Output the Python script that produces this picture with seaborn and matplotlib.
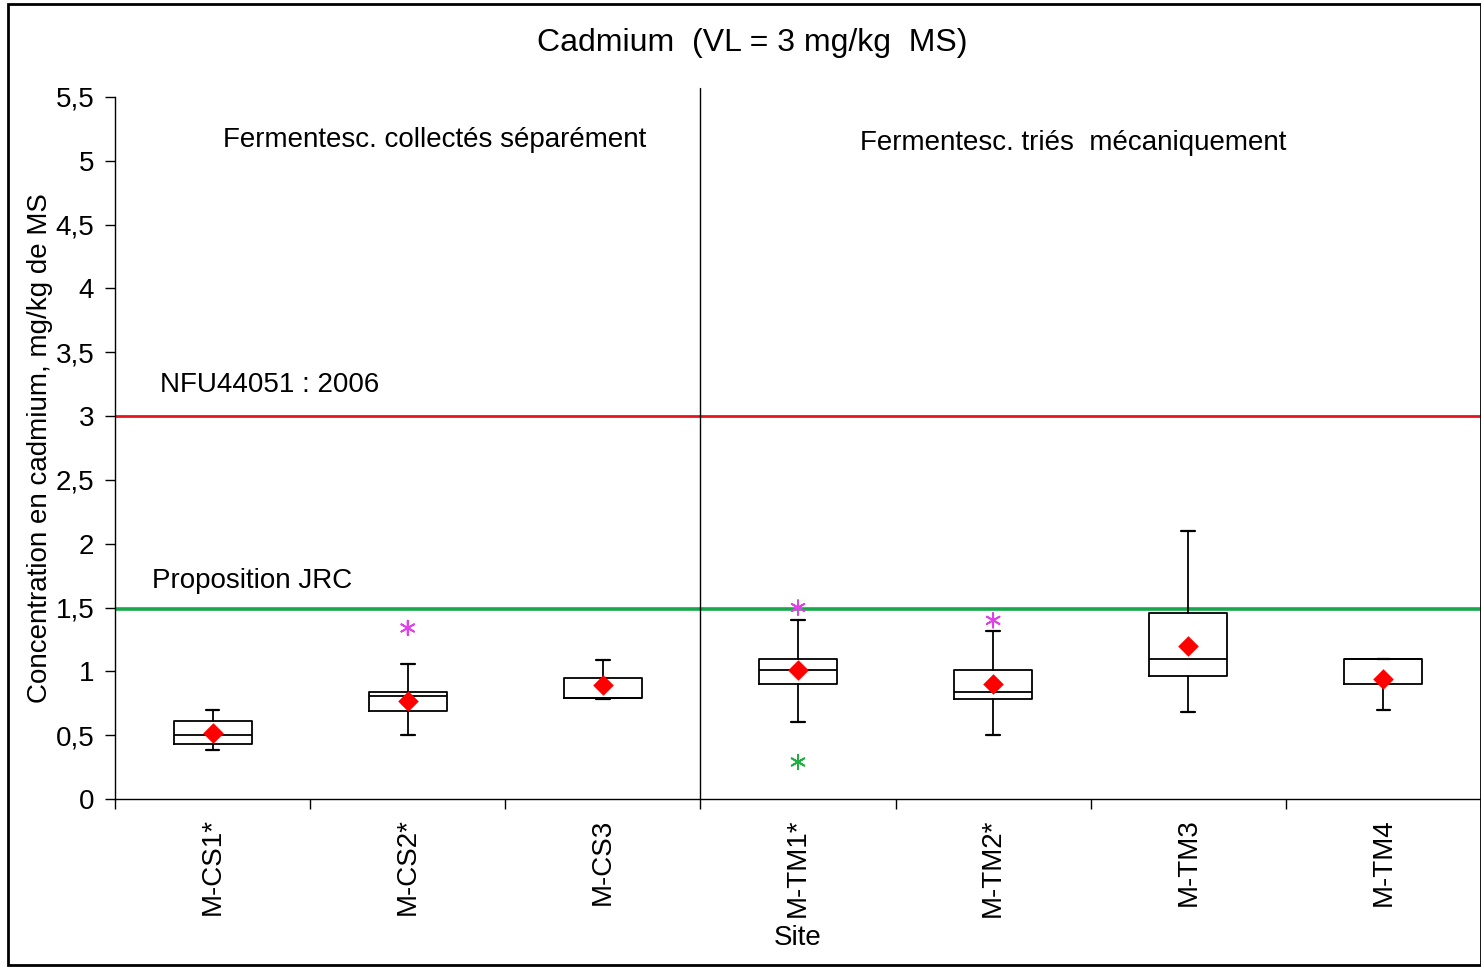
import matplotlib
matplotlib.use("Agg")
import matplotlib.pyplot as plt
import seaborn as sns
import pandas as pd
from matplotlib.patches import Rectangle
from matplotlib.ticker import FuncFormatter, FixedLocator

# ---- data ----
sites = ["M-CS1*", "M-CS2*", "M-CS3", "M-TM1*", "M-TM2*", "M-TM3", "M-TM4"]
whisker_low = [0.38, 0.50, 0.78, 0.60, 0.50, 0.68, 0.70]
q1 = [0.43, 0.69, 0.79, 0.90, 0.78, 0.96, 0.90]
median = [0.50, 0.81, 0.79, 1.01, 0.84, 1.10, 1.10]
q3 = [0.61, 0.84, 0.95, 1.10, 1.01, 1.46, 1.10]
whisker_high = [0.70, 1.06, 1.09, 1.40, 1.32, 2.10, 1.10]
mean = [0.52, 0.77, 0.89, 1.01, 0.90, 1.20, 0.94]

outlier_sites = ["M-CS2*", "M-TM1*", "M-TM2*", "M-TM1*"]
outlier_values = [1.34, 1.50, 1.40, 0.29]
outlier_kind = ["high", "high", "high", "low"]

limit_nfu = 3.0
limit_jrc = 1.49

sns.set_style("white")
plt.rcParams["font.family"] = ["Liberation Sans", "DejaVu Sans"]
plt.rcParams["text.color"] = "black"
plt.rcParams["axes.labelcolor"] = "black"
plt.rcParams["xtick.color"] = "black"
plt.rcParams["ytick.color"] = "black"

fig = plt.figure(figsize=(14.81, 9.69), dpi=100)
ax = fig.add_axes([115 / 1481, 170 / 969, 1366 / 1481, 702 / 969])

stats = []
for i, s in enumerate(sites):
    stats.append(dict(label=s, whislo=whisker_low[i], q1=q1[i], med=median[i],
                      q3=q3[i], whishi=whisker_high[i], fliers=[]))

ax.bxp(stats, positions=range(len(sites)), widths=0.4, capwidths=0.07,
       showfliers=False, patch_artist=False,
       boxprops=dict(color="black", linewidth=1.3),
       medianprops=dict(color="black", linewidth=1.3),
       whiskerprops=dict(color="black", linewidth=1.3),
       capprops=dict(color="black", linewidth=1.6))

pos = {s: i for i, s in enumerate(sites)}
df_mean = pd.DataFrame({"x": [pos[s] for s in sites], "y": mean})
sns.scatterplot(data=df_mean, x="x", y="y", marker="D", s=110, color="#ff0000",
                edgecolor="#ff0000", linewidth=0, ax=ax, zorder=5)

df_out = pd.DataFrame({"x": [pos[s] for s in outlier_sites], "y": outlier_values,
                       "kind": outlier_kind})
sns.scatterplot(data=df_out, x="x", y="y", hue="kind",
                palette={"high": "#e040e8", "low": "#20b040"},
                marker=(6, 2, 0), s=110, linewidth=1.3, legend=False, ax=ax, zorder=5)

ax.axhline(limit_nfu, color="#e8141c", linewidth=2.0, zorder=1)
ax.axhline(limit_jrc, color="#16a84a", linewidth=2.6, zorder=1)
ax.plot([2.5, 2.5], [0, 5.57], color="black", linewidth=1.0, clip_on=False, zorder=2)

ax.set_xlim(-0.5, 6.5)
ax.set_ylim(0, 5.5)
ax.set_yticks([i * 0.5 for i in range(12)])
ax.yaxis.set_major_formatter(FuncFormatter(lambda v, p: ("%g" % v).replace(".", ",")))
ax.set_xticks(range(len(sites)))
ax.set_xticklabels(sites, rotation=90, fontsize=20)
ax.xaxis.set_minor_locator(FixedLocator([i + 0.5 for i in range(-1, 7)]))
ax.tick_params(axis="x", which="major", length=0, pad=14)
ax.tick_params(axis="x", which="minor", length=7, width=1, color="black", direction="out", bottom=True)
ax.tick_params(axis="y", which="major", length=7, width=1, color="black", direction="out",
               left=True, labelsize=20, pad=8)

for side in ["top", "right"]:
    ax.spines[side].set_visible(False)
for side in ["left", "bottom"]:
    ax.spines[side].set_color("black")
    ax.spines[side].set_linewidth(1.0)

ax.set_xlabel("Site", fontsize=20, labelpad=6)
ax.set_ylabel("Concentration en cadmium, mg/kg de MS", fontsize=20, labelpad=2)

ax.text(1.14, 5.165, "Fermentesc. collectés séparément", ha="center", va="center", fontsize=20)
ax.text(4.41, 5.14, "Fermentesc. triés  mécaniquement", ha="center", va="center", fontsize=20)
ax.text(-0.27, 3.24, "NFU44051 : 2006", ha="left", va="center", fontsize=20)
ax.text(-0.31, 1.71, "Proposition JRC", ha="left", va="center", fontsize=20)

fig.text(752 / 1481, 1 - 43 / 969, "Cadmium  (VL = 3 mg/kg  MS)", ha="center", va="center", fontsize=23)

fig.patches.append(Rectangle((8 / 1481, 4 / 969), 1 - 8 / 1481, 1 - 8 / 969,
                             transform=fig.transFigure, fill=False,
                             edgecolor="black", linewidth=2.0))

fig.savefig("out.png", dpi=100)
